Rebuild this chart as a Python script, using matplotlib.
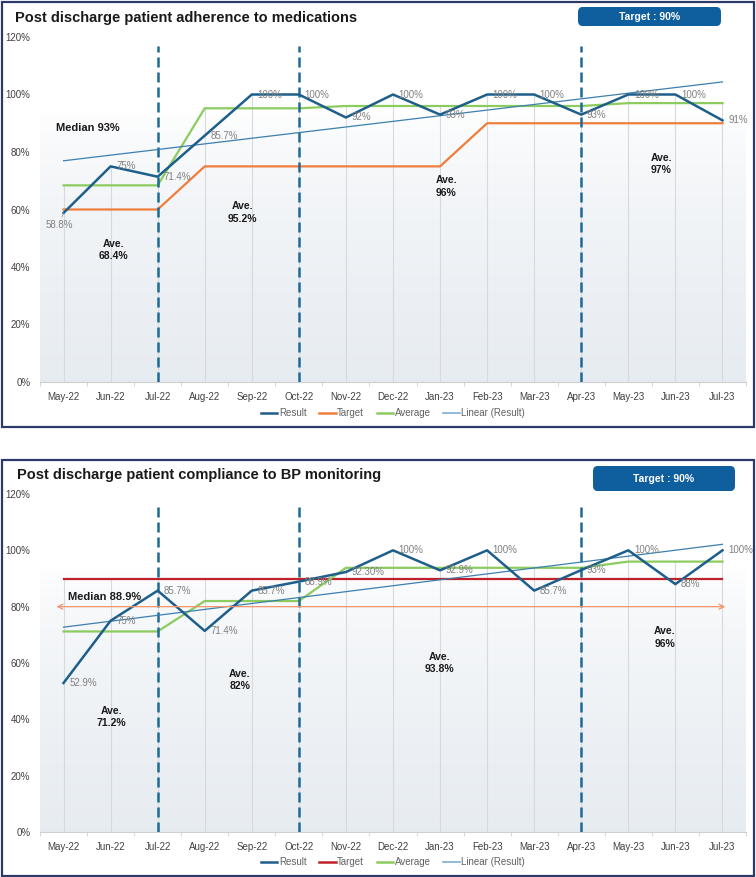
import matplotlib
matplotlib.use("Agg")
import matplotlib.pyplot as plt
import numpy as np
from matplotlib.patches import Rectangle, FancyBboxPatch
from matplotlib.lines import Line2D

plt.rcParams["font.family"] = ["Liberation Sans", "DejaVu Sans"]

months = ["May-22", "Jun-22", "Jul-22", "Aug-22", "Sep-22", "Oct-22", "Nov-22", "Dec-22",
          "Jan-23", "Feb-23", "Mar-23", "Apr-23", "May-23", "Jun-23", "Jul-23"]

# panel 1: medications adherence
med_result = [58.8, 75, 71.4, 85.7, 100, 100, 92, 100, 93, 100, 100, 93, 100, 100, 91]
med_result_labels = ["58.8%", "75%", "71.4%", "85.7%", "100%", "100%", "92%", "100%",
                     "93%", "100%", "100%", "93%", "100%", "100%", "91%"]
med_target = [60, 60, 60, 75, 75, 75, 75, 75, 75, 90, 90, 90, 90, 90, 90]
med_average = [68.4, 68.4, 68.4, 95.2, 95.2, 95.2, 96, 96, 96, 96, 96, 96, 97, 97, 97]
med_ave_text = ["Ave.\n68.4%", "Ave.\n95.2%", "Ave.\n96%", "Ave.\n97%"]
med_ave_pos = [(1.06, 46), (3.8, 59), (8.13, 68), (12.7, 75.8)]
med_median = "Median 93%"

# panel 2: BP monitoring compliance
bp_result = [52.9, 75, 85.7, 71.4, 85.7, 88.9, 92.3, 100, 92.9, 100, 85.7, 93, 100, 88, 100]
bp_result_labels = ["52.9%", "75%", "85.7%", "71.4%", "85.7%", "88.9%", "92.30%", "100%",
                    "92.9%", "100%", "85.7%", "93%", "100%", "88%", "100%"]
bp_target = [90] * 15
bp_average = [71.2, 71.2, 71.2, 82, 82, 82, 93.8, 93.8, 93.8, 93.8, 93.8, 93.8, 96, 96, 96]
bp_ave_text = ["Ave.\n71.2%", "Ave.\n82%", "Ave.\n93.8%", "Ave.\n96%"]
bp_ave_pos = [(1.02, 40.9), (3.74, 54), (7.98, 59.9), (12.77, 69.1)]
bp_median = "Median 88.9%"
bp_median_line = 80

phase_ends = [2, 5, 11]

W, H = 756, 877
C_RESULT = "#1D5F8A"
C_ORANGE = "#F07D3C"
C_RED = "#C0202A"
C_GREEN = "#8CCB5E"
C_TREND = "#3D7FAE"
C_DASH = "#1E6A94"
C_BORDER = "#2B3A6B"
C_BOX = "#0F5E9E"


def fx(px):
    return px / W


def fy(py):
    return 1 - py / H


def draw_panel(ax, result, labels, target, target_color, average, ave_text, ave_pos,
               median_text, median_pos, legend_y):
    x = np.arange(len(months))
    ax.set_xlim(-0.5, len(months) - 0.5)
    ax.set_ylim(0, 120)

    # gradient plot background (white on top, light grey-blue at the bottom)
    grad = np.linspace(0, 1, 256)[:, None]
    top = np.array([1.0, 1.0, 1.0])
    bot = np.array([0.905, 0.925, 0.945])
    t = np.clip((0.78 - grad) / 0.78, 0, 1) ** 0.6
    img = top[None, None, :] * (1 - t[..., None]) + bot[None, None, :] * t[..., None]
    img = np.repeat(img, 2, axis=1)
    ax.imshow(img, extent=(-0.5, len(months) - 0.5, 0, 120), origin="lower",
              aspect="auto", zorder=0)

    # drop lines
    tops = np.maximum(np.maximum(result, target), average)
    ax.vlines(x, 0, tops, color="#D6D9DD", lw=0.8, zorder=1)

    ax.vlines(phase_ends, 0, 117, color=C_DASH, lw=1.8, linestyles=(0, (4, 2)), zorder=4)

    ax.plot(x, target, color=target_color, lw=1.6, zorder=3)
    ax.plot(x, average, color=C_GREEN, lw=1.6, zorder=3)
    ax.plot(x, result, color=C_RESULT, lw=1.8, zorder=5)
    slope, icpt = np.polyfit(x, result, 1)
    ax.plot(x, slope * x + icpt, color=C_TREND, lw=0.9, zorder=4)

    for i, (v, lab) in enumerate(zip(result, labels)):
        if i == 0 and lab == "58.8%":
            ax.annotate(lab, (i, v), xytext=(-0.1, v - 4.2), textcoords="data",
                        ha="center", va="center", fontsize=7, color="#808080",
                        arrowprops=dict(arrowstyle="-", color="#A0A0A0", lw=0.6,
                                        shrinkA=0, shrinkB=0), zorder=6)
        else:
            ax.annotate(lab, (i, v), xytext=(4, 0), textcoords="offset points",
                        ha="left", va="center", fontsize=7, color="#808080", zorder=6)

    for txt, (px, py) in zip(ave_text, ave_pos):
        ax.text(px, py, txt, ha="center", va="center", fontsize=7.5,
                fontweight="bold", color="#1A1A1A", linespacing=1.3, zorder=6)
    ax.text(median_pos[0], median_pos[1], median_text, ha="left", va="center",
            fontsize=8, fontweight="bold", color="#1A1A1A", zorder=6)

    ax.set_xticks(x)
    ax.set_xticklabels(months, fontsize=7, color="#404040")
    ax.set_xticks(np.arange(-0.5, len(months)), minor=True)
    ax.tick_params(axis="x", which="major", length=0, pad=7)
    ax.tick_params(axis="x", which="minor", length=3, color="#D0D0D0")
    ax.set_yticks(range(0, 121, 20))
    ax.set_yticklabels([f"{v}%" for v in range(0, 121, 20)], fontsize=7, color="#404040")
    ax.tick_params(axis="y", length=0, pad=7)
    for s in ["top", "right", "left"]:
        ax.spines[s].set_visible(False)
    ax.spines["bottom"].set_color("#D0D0D0")

    handles = [
        Line2D([0], [0], color=C_RESULT, lw=1.8, label="Result"),
        Line2D([0], [0], color=target_color, lw=1.8, label="Target"),
        Line2D([0], [0], color=C_GREEN, lw=1.8, label="Average"),
        Line2D([0], [0], color="#7FAFD3", lw=1.2, label="Linear (Result)"),
    ]
    leg = ax.legend(handles=handles, loc="center", bbox_to_anchor=(0.5, legend_y),
                    ncol=4, frameon=False, fontsize=7, handlelength=1.7,
                    handletextpad=0.15, columnspacing=1.3)
    for t_ in leg.get_texts():
        t_.set_color("#606060")


fig = plt.figure(figsize=(W / 100, H / 100), dpi=100)

ax1 = fig.add_axes([fx(40), fy(382), fx(706), 345 / H])
draw_panel(ax1, med_result, med_result_labels, med_target, C_ORANGE, med_average,
           med_ave_text, med_ave_pos, med_median, (-0.17, 88.3), -0.09)

ax2 = fig.add_axes([fx(40), fy(832), fx(706), 338 / H])
draw_panel(ax2, bp_result, bp_result_labels, bp_target, C_RED, bp_average,
           bp_ave_text, bp_ave_pos, bp_median, (0.09, 83.5), -0.09)
ax2.annotate("", xy=(14.12, bp_median_line), xytext=(-0.21, bp_median_line),
             arrowprops=dict(arrowstyle="<->", color="#F2956A", lw=0.9,
                             mutation_scale=9), zorder=6)

# titles, panel borders and target boxes
fig.text(fx(15), fy(18), "Post discharge patient adherence to medications",
         fontsize=10.5, fontweight="bold", color="#1A1A1A", va="center", ha="left")
fig.text(fx(17), fy(475), "Post discharge patient compliance to BP monitoring",
         fontsize=10.5, fontweight="bold", color="#1A1A1A", va="center", ha="left")

for (y0, y1) in [(1.5, 427), (460, 875.5)]:
    fig.add_artist(Rectangle((fx(1.5), fy(y1)), fx(752), (y1 - y0) / H,
                             transform=fig.transFigure, fill=False,
                             edgecolor=C_BORDER, lw=1.6))

for (x0, x1, y0, y1) in [(578, 721, 7, 26), (593, 735, 466, 491)]:
    fig.add_artist(FancyBboxPatch((fx(x0), fy(y1)), fx(x1 - x0), (y1 - y0) / H,
                                  boxstyle="round,pad=0,rounding_size=0.006",
                                  transform=fig.transFigure, facecolor=C_BOX,
                                  edgecolor="none"))
    fig.text(fx((x0 + x1) / 2), fy((y0 + y1) / 2), "Target : 90%", color="white",
             fontsize=7.5, fontweight="bold", ha="center", va="center")

fig.savefig("out.png", dpi=100)
